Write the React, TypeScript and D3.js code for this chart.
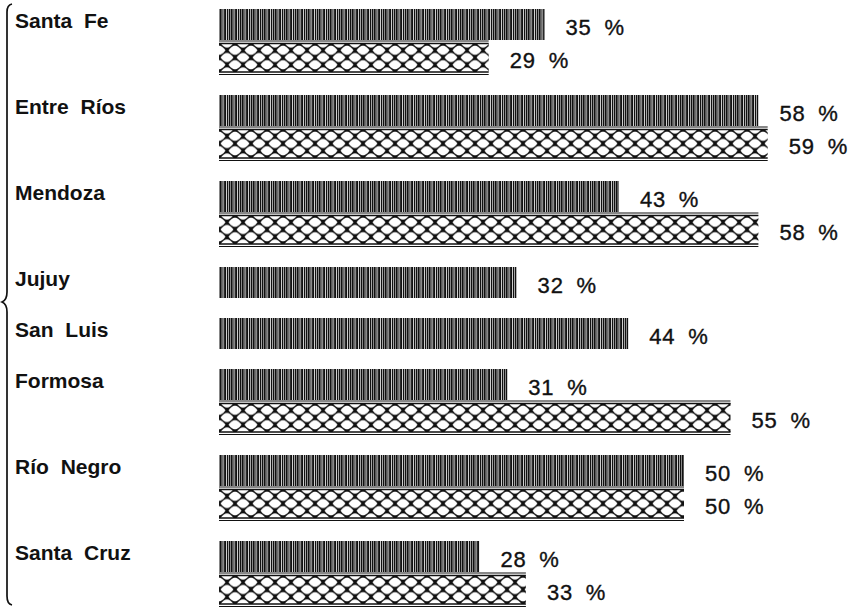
import React from "react";
import * as d3 from "d3";

const provinces = ["Santa Fe", "Entre Ríos", "Mendoza", "Jujuy", "San Luis", "Formosa", "Río Negro", "Santa Cruz"];
const seriesA = [35, 58, 43, 32, 44, 31, 50, 28];
const seriesB: (number | null)[] = [29, 59, 58, null, null, 55, 50, 33];

const W = 859;
const H = 608;
const FONT = "'Liberation Sans', Arial, Helvetica, sans-serif";

function lens(cx: number, cy: number, rx: number, ry: number) {
  const p = d3.path();
  p.moveTo(cx - rx, cy);
  p.quadraticCurveTo(cx, cy - 2 * ry, cx + rx, cy);
  p.quadraticCurveTo(cx, cy + 2 * ry, cx - rx, cy);
  p.closePath();
  return p.toString();
}

export default function App() {
  const x = d3.scaleLinear().domain([0, 100]).range([219, 1149]);
  const rowH = (i: number) => (seriesB[i] != null ? 86 : 51);
  const tops: number[] = [];
  let acc = 9;
  provinces.forEach((_, i) => {
    tops.push(acc);
    acc += rowH(i);
  });
  const hA = 31;
  const offB = 34;
  const hB = 29;
  const gap = 21;
  const tw = 16;
  const th = hB / 2;

  const stripes = [
    [0, 1.7], [2.4, 1.1], [4.1, 2.1], [7, 1.3], [8.9, 1.6],
  ];

  const brace = d3.path();
  brace.moveTo(12, 4);
  brace.quadraticCurveTo(7, 5, 7, 12);
  brace.lineTo(7, 292);
  brace.quadraticCurveTo(7, 300, 2, 302);
  brace.quadraticCurveTo(7, 304, 7, 312);
  brace.lineTo(7, 596);
  brace.quadraticCurveTo(7, 604, 12, 605);

  return (
    <svg width={W} height={H} style={{ position: "absolute", left: 0, top: 0, background: "#fff" }}>
      <defs>
        <pattern id="vstripe" patternUnits="userSpaceOnUse" width={11} height={4}>
          <rect width={11} height={4} fill="#fff" />
          {stripes.map(([sx, sw], k) => (
            <rect key={k} x={sx} y={0} width={sw} height={4} fill="#111" />
          ))}
        </pattern>
        {provinces.map((_, i) =>
          seriesB[i] == null ? null : (
            <pattern key={i} id={`net${i}`} patternUnits="userSpaceOnUse" x={219} y={tops[i] + offB} width={tw} height={th}>
              <rect width={tw} height={th} fill="#111" />
              {[[0, th / 2], [tw, th / 2], [tw / 2, 0], [tw / 2, th]].map(([cx, cy], k) => (
                <path key={k} d={lens(cx, cy, 6.5, 4.6)} fill="#fff" />
              ))}
            </pattern>
          )
        )}
      </defs>

      <path d={brace.toString()} fill="none" stroke="#111" strokeWidth={1.7} />

      {provinces.map((p, i) => {
        const t = tops[i];
        const a = seriesA[i];
        const b = seriesB[i];
        return (
          <g key={p}>
            <text x={15} y={t + 19} fontFamily={FONT} fontSize={21} fontWeight="bold" wordSpacing={6} fill="#111">
              {p}
            </text>
            <rect x={x(0)} y={t} width={x(a) - x(0)} height={hA} fill="url(#vstripe)" />
            <text x={x(a) + gap} y={t + 26} fontFamily={FONT} fontSize={22} wordSpacing={6} letterSpacing={0.8} fill="#111" stroke="#111" strokeWidth={0.35}>
              {`${a} %`}
            </text>
            {b != null && (
              <g>
                <rect x={x(0)} y={t + offB} width={x(b) - x(0)} height={hB} fill={`url(#net${i})`} />
                <line x1={x(0)} x2={x(b)} y1={t + offB - 2} y2={t + offB - 2} stroke="#111" strokeWidth={1} />
                <line x1={x(0)} x2={x(b)} y1={t + offB + 0.5} y2={t + offB + 0.5} stroke="#111" strokeWidth={1.4} />
                <line x1={x(0)} x2={x(b)} y1={t + offB + hB} y2={t + offB + hB} stroke="#111" strokeWidth={1.4} />
                <line x1={x(0)} x2={x(b)} y1={t + offB + hB + 2.5} y2={t + offB + hB + 2.5} stroke="#111" strokeWidth={1} />
                <text x={x(b) + gap} y={t + offB + 25} fontFamily={FONT} fontSize={22} wordSpacing={6} letterSpacing={0.8} fill="#111" stroke="#111" strokeWidth={0.35}>
                  {`${b} %`}
                </text>
              </g>
            )}
          </g>
        );
      })}
    </svg>
  );
}
